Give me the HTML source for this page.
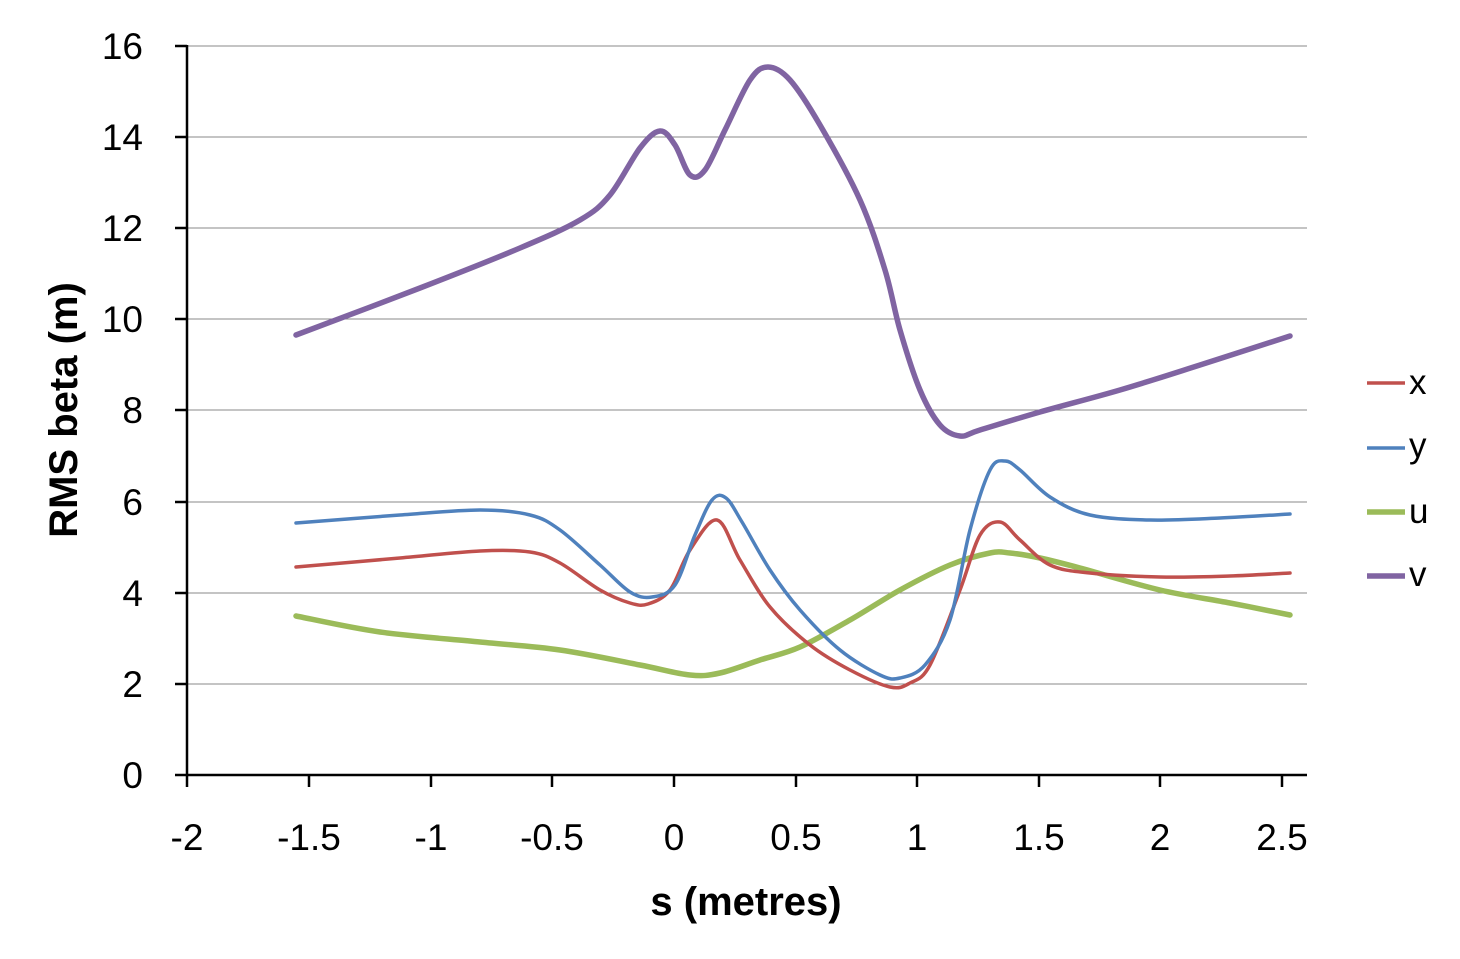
<!DOCTYPE html>
<html><head><meta charset="utf-8"><style>
html,body{margin:0;padding:0;background:#fff;}
svg{display:block;font-family:"Liberation Sans",Calibri,sans-serif;}
</style></head><body>
<svg id="s" width="1460" height="959" viewBox="0 0 1460 959">
<g stroke="#888" stroke-width="1">
<line x1="187" y1="46" x2="1307" y2="46"/>
<line x1="187" y1="137" x2="1307" y2="137"/>
<line x1="187" y1="228" x2="1307" y2="228"/>
<line x1="187" y1="319" x2="1307" y2="319"/>
<line x1="187" y1="410" x2="1307" y2="410"/>
<line x1="187" y1="502" x2="1307" y2="502"/>
<line x1="187" y1="593" x2="1307" y2="593"/>
<line x1="187" y1="684" x2="1307" y2="684"/>
</g>
<g stroke="#000" stroke-width="2.5">
<line x1="187" y1="45" x2="187" y2="776"/>
<line x1="186" y1="775" x2="1307" y2="775"/>
<line x1="175" y1="46" x2="187" y2="46"/><line x1="175" y1="137" x2="187" y2="137"/>
<line x1="175" y1="228" x2="187" y2="228"/><line x1="175" y1="319" x2="187" y2="319"/>
<line x1="175" y1="410" x2="187" y2="410"/><line x1="175" y1="502" x2="187" y2="502"/>
<line x1="175" y1="593" x2="187" y2="593"/><line x1="175" y1="684" x2="187" y2="684"/>
<line x1="175" y1="775" x2="187" y2="775"/>
<line x1="187" y1="775" x2="187" y2="787"/><line x1="309" y1="775" x2="309" y2="787"/>
<line x1="431" y1="775" x2="431" y2="787"/><line x1="552" y1="775" x2="552" y2="787"/>
<line x1="674" y1="775" x2="674" y2="787"/><line x1="796" y1="775" x2="796" y2="787"/>
<line x1="917" y1="775" x2="917" y2="787"/><line x1="1039" y1="775" x2="1039" y2="787"/>
<line x1="1160" y1="775" x2="1160" y2="787"/><line x1="1282" y1="775" x2="1282" y2="787"/>
</g>
<g font-size="37" text-anchor="end" fill="#000">
<text x="143" y="59">16</text><text x="143" y="150">14</text><text x="143" y="241">12</text>
<text x="143" y="332">10</text><text x="143" y="423">8</text><text x="143" y="515">6</text>
<text x="143" y="606">4</text><text x="143" y="697">2</text><text x="143" y="788">0</text>
</g>
<g font-size="37" text-anchor="middle" fill="#000">
<text x="187" y="850">-2</text><text x="309" y="850">-1.5</text><text x="431" y="850">-1</text>
<text x="552" y="850">-0.5</text><text x="674" y="850">0</text><text x="796" y="850">0.5</text>
<text x="917" y="850">1</text><text x="1039" y="850">1.5</text><text x="1160" y="850">2</text>
<text x="1282" y="850">2.5</text>
</g>
<text x="746" y="915" font-size="40" font-weight="bold" text-anchor="middle">s (metres)</text>
<text transform="translate(77,410) rotate(-90)" font-size="40" font-weight="bold" text-anchor="middle">RMS beta (m)</text>
<g id="series" fill="none" stroke-linecap="round" stroke-linejoin="round"></g>
<g stroke-width="3.5">
<line x1="1367" y1="383" x2="1405" y2="383" stroke="#C0504D"/>
<line x1="1367" y1="448" x2="1405" y2="448" stroke="#4F81BD"/>
<line x1="1367" y1="512" x2="1405" y2="512" stroke="#9BBB59" stroke-width="5.5"/>
<line x1="1367" y1="576" x2="1405" y2="576" stroke="#8064A2" stroke-width="5.5"/>
</g>
<g font-size="35" fill="#000">
<text x="1409" y="394">x</text><text x="1409" y="457">y</text>
<text x="1409" y="523">u</text><text x="1409" y="586">v</text>
</g>
</svg>
<script>
var S={
v:[[296,335],[420,288],[520,248],[580,220],[610,195],[640,148],[660,131],[675,145],[690,175],[705,170],[725,130],[750,80],[768,67],[790,80],[820,125],[860,200],[885,270],[900,330],[920,390],[940,425],[960,436],[980,430],[1040,412],[1120,390],[1200,365],[1290,336]],
y:[[296,523],[400,515],[480,510],[530,515],[560,530],[600,565],[630,592],[652,597],[675,585],[695,535],[712,500],[726,498],[742,522],[770,570],[800,610],[840,650],[880,675],[900,678],[925,665],[950,620],[970,530],[990,470],[1005,461],[1020,470],[1050,497],[1090,515],[1150,520],[1220,518],[1290,514]],
x:[[296,567],[400,558],[480,551],[530,552],[560,563],[600,590],[630,603],[648,604],[670,590],[690,550],[717,520],[740,560],[770,607],[810,645],[850,670],[890,687],[910,683],[930,665],[960,590],[980,535],[1000,522],[1020,540],[1050,565],[1090,573],[1160,577],[1230,576],[1290,573]],
u:[[296,616],[380,632],[480,642],[560,650],[640,665],[690,675],[720,673],[760,660],[800,647],[850,620],[900,590],[950,565],[990,553],[1010,553],[1040,558],[1080,568],[1160,590],[1230,603],[1290,615]]};
var C={x:["#C0504D",3.5],y:["#4F81BD",3.5],u:["#9BBB59",5.5],v:["#8064A2",5.5]};
function cr(p){var d="M"+p[0][0]+","+p[0][1];for(var i=0;i<p.length-1;i++){var a=p[i-1]||p[i],b=p[i],c=p[i+1],e=p[i+2]||c;
d+=" C"+(b[0]+(c[0]-a[0])/6)+","+(b[1]+(c[1]-a[1])/6)+" "+(c[0]-(e[0]-b[0])/6)+","+(c[1]-(e[1]-b[1])/6)+" "+c[0]+","+c[1];}return d;}
var g=document.getElementById("series");
["u","x","y","v"].forEach(function(k){var p=document.createElementNS("http://www.w3.org/2000/svg","path");
p.setAttribute("d",cr(S[k]));p.setAttribute("stroke",C[k][0]);p.setAttribute("stroke-width",C[k][1]);g.appendChild(p);});
</script>
</body></html>
